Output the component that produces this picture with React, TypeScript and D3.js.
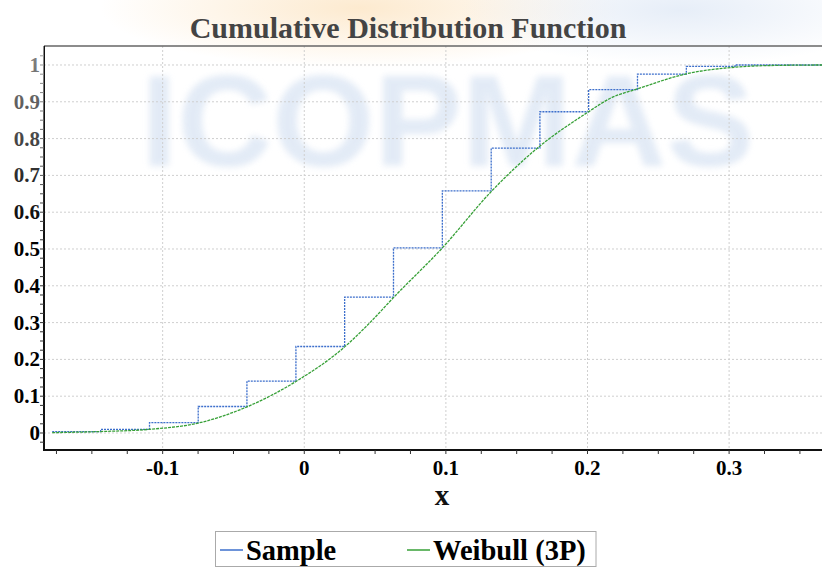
import React from "react";
import * as d3 from "d3";

const title = "Cumulative Distribution Function";
const xLabel = "x";
const seriesNames = ["Sample", "Weibull (3P)"];
const seriesColors = ["#3d6fcc", "#37a037"];

// Empirical CDF steps (x where step occurs, level after the step)
const stepX = [-0.178, -0.1438, -0.1093, -0.0749, -0.0405, -0.0059, 0.0285, 0.063, 0.0975, 0.132, 0.1664, 0.2008, 0.2353, 0.2698, 0.3042];
const stepLevel = [0.004, 0.010, 0.028, 0.072, 0.141, 0.235, 0.369, 0.503, 0.658, 0.774, 0.873, 0.933, 0.975, 0.996, 1.0];

// Fitted Weibull (3P) CDF
const fitX = [-0.178, -0.1438, -0.1093, -0.0749, -0.0405, -0.0059, 0.0285, 0.0464, 0.063, 0.0975, 0.132, 0.163, 0.2008, 0.2158, 0.2353, 0.2698, 0.3042, 0.335, 0.3656];
const fitY = [0.001, 0.004, 0.010, 0.027, 0.071, 0.140, 0.234, 0.300, 0.368, 0.503, 0.656, 0.769, 0.873, 0.909, 0.935, 0.976, 0.994, 0.999, 1.0];

const xTicks = [-0.1, 0, 0.1, 0.2, 0.3];
const xTickLabels = ["-0.1", "0", "0.1", "0.2", "0.3"];
const yTicks = [0, 0.1, 0.2, 0.3, 0.4, 0.5, 0.6, 0.7, 0.8, 0.9, 1];
const yTickLabels = ["0", "0.1", "0.2", "0.3", "0.4", "0.5", "0.6", "0.7", "0.8", "0.9", "1"];
const watermark = "ICOPMAS";

const W = 822;
const H = 567;
const L = 44, R = 822, T = 46, B = 450;
const serif = "'Liberation Serif', 'Times New Roman', serif";

export default function App() {
  const x = d3.scaleLinear().domain([-0.1838, 0.3656]).range([L, R]);
  const y = d3.scaleLinear().domain([-0.0462, 1.0516]).range([B, T]);

  const stepPts: [number, number][] = stepX.map((v, i) => [v, stepLevel[i]]);
  stepPts.push([x.domain()[1], stepLevel[stepLevel.length - 1]]);
  const stepLine = d3.line<[number, number]>().x(d => x(d[0])).y(d => y(d[1])).curve(d3.curveStepAfter);
  const fitPts: [number, number][] = fitX.map((v, i) => [v, fitY[i]]);
  const fitLine = d3.line<[number, number]>().x(d => x(d[0])).y(d => y(d[1])).curve(d3.curveMonotoneX);

  const xMinor = d3.range(-0.175, 0.36, 0.025);
  const yMinor = d3.range(-0.025, 1.05, 0.025);

  return (
    <svg width={W} height={H} style={{ position: "absolute", left: 0, top: 0 }}>
      <defs>
        <filter id="blur" x="-10%" y="-10%" width="120%" height="120%">
          <feGaussianBlur stdDeviation="3" />
        </filter>
        <radialGradient id="orange" cx="0.5" cy="0.5" r="0.5">
          <stop offset="0" stopColor="#fbd9a8" stopOpacity="0.55" />
          <stop offset="1" stopColor="#fbd9a8" stopOpacity="0" />
        </radialGradient>
        <radialGradient id="bluish" cx="0.5" cy="0.5" r="0.5">
          <stop offset="0" stopColor="#d6e2f3" stopOpacity="0.6" />
          <stop offset="1" stopColor="#d6e2f3" stopOpacity="0" />
        </radialGradient>
        <linearGradient id="fade" x1="0" y1="0" x2="0" y2="1">
          <stop offset="0" stopColor="#ffffff" stopOpacity="0.55" />
          <stop offset="1" stopColor="#ffffff" stopOpacity="0" />
        </linearGradient>
        <clipPath id="plot">
          <rect x={L} y={T} width={R - L} height={B - T} />
        </clipPath>
      </defs>
      <rect x={0} y={0} width={W} height={H} fill="#fff" />
      {/* watermark background */}
      <ellipse cx={360} cy={8} rx={260} ry={60} fill="url(#orange)" />
      <ellipse cx={680} cy={10} rx={220} ry={55} fill="url(#bluish)" />
      <text x={141} y={166} textLength={613} lengthAdjust="spacingAndGlyphs"
        fontFamily="'Liberation Sans', Arial, sans-serif" fontWeight="bold" fontSize={130}
        fill="#dce6f4" opacity={0.8} filter="url(#blur)">{watermark}</text>

      {/* grid */}
      <g stroke="#cfcfcf" strokeWidth={1} strokeDasharray="2,2">
        {xTicks.map(t => (
          <line key={"gx" + t} x1={x(t)} x2={x(t)} y1={T} y2={B} />
        ))}
        {yTicks.map(t => (
          <line key={"gy" + t} x1={L} x2={R} y1={y(t)} y2={y(t)} />
        ))}
      </g>

      {/* series */}
      <g clipPath="url(#plot)" fill="none">
        <path d={stepLine(stepPts) || ""} stroke={seriesColors[0]} strokeWidth={1.3} strokeDasharray="2,1" />
        <path d={fitLine(fitPts) || ""} stroke={seriesColors[1]} strokeWidth={1.3} strokeDasharray="3,1" />
      </g>

      {/* axes */}
      <line x1={L} x2={R} y1={T} y2={T} stroke="#666" strokeWidth={1.5} />
      <line x1={L} x2={L} y1={T} y2={B + 1} stroke="#111" strokeWidth={2} />
      <line x1={L - 1} x2={R} y1={B} y2={B} stroke="#111" strokeWidth={2} />
      <g stroke="#333" strokeWidth={1}>
        {xMinor.map(t => (
          <line key={"xm" + t} x1={x(t)} x2={x(t)} y1={B} y2={B + 4} />
        ))}
        {yMinor.map(t => (
          <line key={"ym" + t} x1={L - 4} x2={L} y1={y(t)} y2={y(t)} />
        ))}
      </g>

      {/* tick labels */}
      <g fontFamily={serif} fontWeight="bold" fontSize={21} fill="#000">
        {xTicks.map((t, i) => (
          <text key={"xl" + t} x={x(t)} y={475} textAnchor="middle">{xTickLabels[i]}</text>
        ))}
        {yTicks.map((t, i) => (
          <text key={"yl" + t} x={40} y={y(t) + 7} textAnchor="end">{yTickLabels[i]}</text>
        ))}
      </g>
      <rect x={0} y={40} width={44} height={200} fill="url(#fade)" />

      <text x={442} y={505} textAnchor="middle" fontFamily={serif} fontWeight="bold" fontSize={29} fill="#111">{xLabel}</text>
      <text x={408} y={38} textAnchor="middle" fontFamily={serif} fontWeight="bold" fontSize={30} fill="#444">{title}</text>

      {/* legend */}
      <rect x={215.5} y={531.5} width={380.5} height={35} fill="#fff" stroke="#aaa" strokeWidth={1} />
      <line x1={220} x2={243} y1={550} y2={550} stroke={seriesColors[0]} strokeWidth={1.5} />
      <text x={246} y={560} fontFamily={serif} fontWeight="bold" fontSize={28.5} fill="#000">{seriesNames[0]}</text>
      <line x1={407} x2={430} y1={550} y2={550} stroke={seriesColors[1]} strokeWidth={1.5} />
      <text x={433} y={560} fontFamily={serif} fontWeight="bold" fontSize={28.5} fill="#000">{seriesNames[1]}</text>
    </svg>
  );
}
